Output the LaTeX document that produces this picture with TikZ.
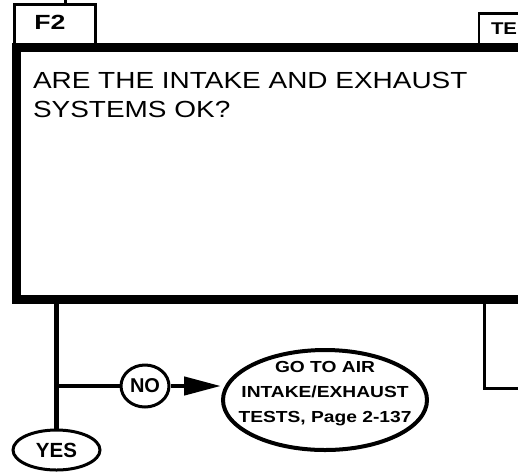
\documentclass[tikz,border=0pt]{standalone}
\usepackage{fontspec}
\setmainfont{Liberation Sans}
\newfontfamily\widefont[FakeStretch=1.2]{Liberation Sans}
\newfontfamily\widerfont[FakeStretch=1.3]{Liberation Sans}
\usetikzlibrary{shapes.geometric,arrows.meta}
\begin{document}
\begin{tikzpicture}[x=1pt,y=-1pt,
  mainbox/.style={draw, rectangle, line width=9pt, inner sep=0pt},
  tabbox/.style={draw, rectangle, line width=2.5pt, inner sep=0pt},
  txt/.style={inner sep=0pt, outer sep=0pt},
  oval/.style={draw, ellipse, inner sep=0pt},
  conn/.style={line width=4.5pt},
  thinconn/.style={line width=3pt},
]
\useasboundingbox (0,0) rectangle (518,472);
\fill[white] (0,0) rectangle (518,472);
\clip (0,0) rectangle (518,472);

% tabs
\node[tabbox, minimum width=81pt, minimum height=42.5pt] (f2box) at (55,25.75) {};
\node[txt, font=\widerfont\bfseries\fontsize{20.5}{20.5}\selectfont] (f2) at (50,22) {F2};
\node[tabbox, minimum width=81pt, minimum height=33.5pt] (tebox) at (519.5,30.25) {};
\node[txt, anchor=base west, font=\widefont\bfseries\fontsize{17}{17}\selectfont] (te) at (491,34) {TE};
\coordinate (top) at (65,0);
\draw[thinconn] (top) -- (top |- f2box.north);

% main question box
\node[mainbox, minimum width=604pt, minimum height=252pt] (q) at (318,173) {};
\node[txt, anchor=north west, align=left, font=\widefont\fontsize{23.3}{29}\selectfont] (qtext) at (33,72)
  {ARE THE INTAKE AND EXHAUST\\SYSTEMS OK?};

% answers
\node[oval, line width=3pt, minimum width=87pt, minimum height=40pt,
      font=\bfseries\fontsize{20.5}{20.5}\selectfont] (yes) at (56.5,450) {YES};
\node[oval, line width=3pt, minimum width=48pt, minimum height=42pt,
      font=\bfseries\fontsize{20}{20}\selectfont] (no) at (145,386) {NO};
\node[oval, line width=4pt, minimum width=204pt, minimum height=100pt] (go) at (325,400) {};
\node[txt, anchor=north, align=center, font=\widefont\bfseries\fontsize{16}{25}\selectfont] (gotext) at (325,361)
  {GO TO AIR\\INTAKE/EXHAUST\\TESTS, Page 2-137};

% connectors
\draw[conn] (q.south -| yes.north) -- (yes.north);
\coordinate (nb) at (yes.north |- no.west);
\draw[conn] (nb) -- (no.west);
\draw[conn, -{Triangle[length=37pt,width=18pt]}] (no.east) -- (go.west |- no.east);
\coordinate (rb) at (484,388);
\coordinate (re) at (530,388);
\draw[thinconn] (q.south -| rb) -- (rb) -- (re);
\end{tikzpicture}
\end{document}
